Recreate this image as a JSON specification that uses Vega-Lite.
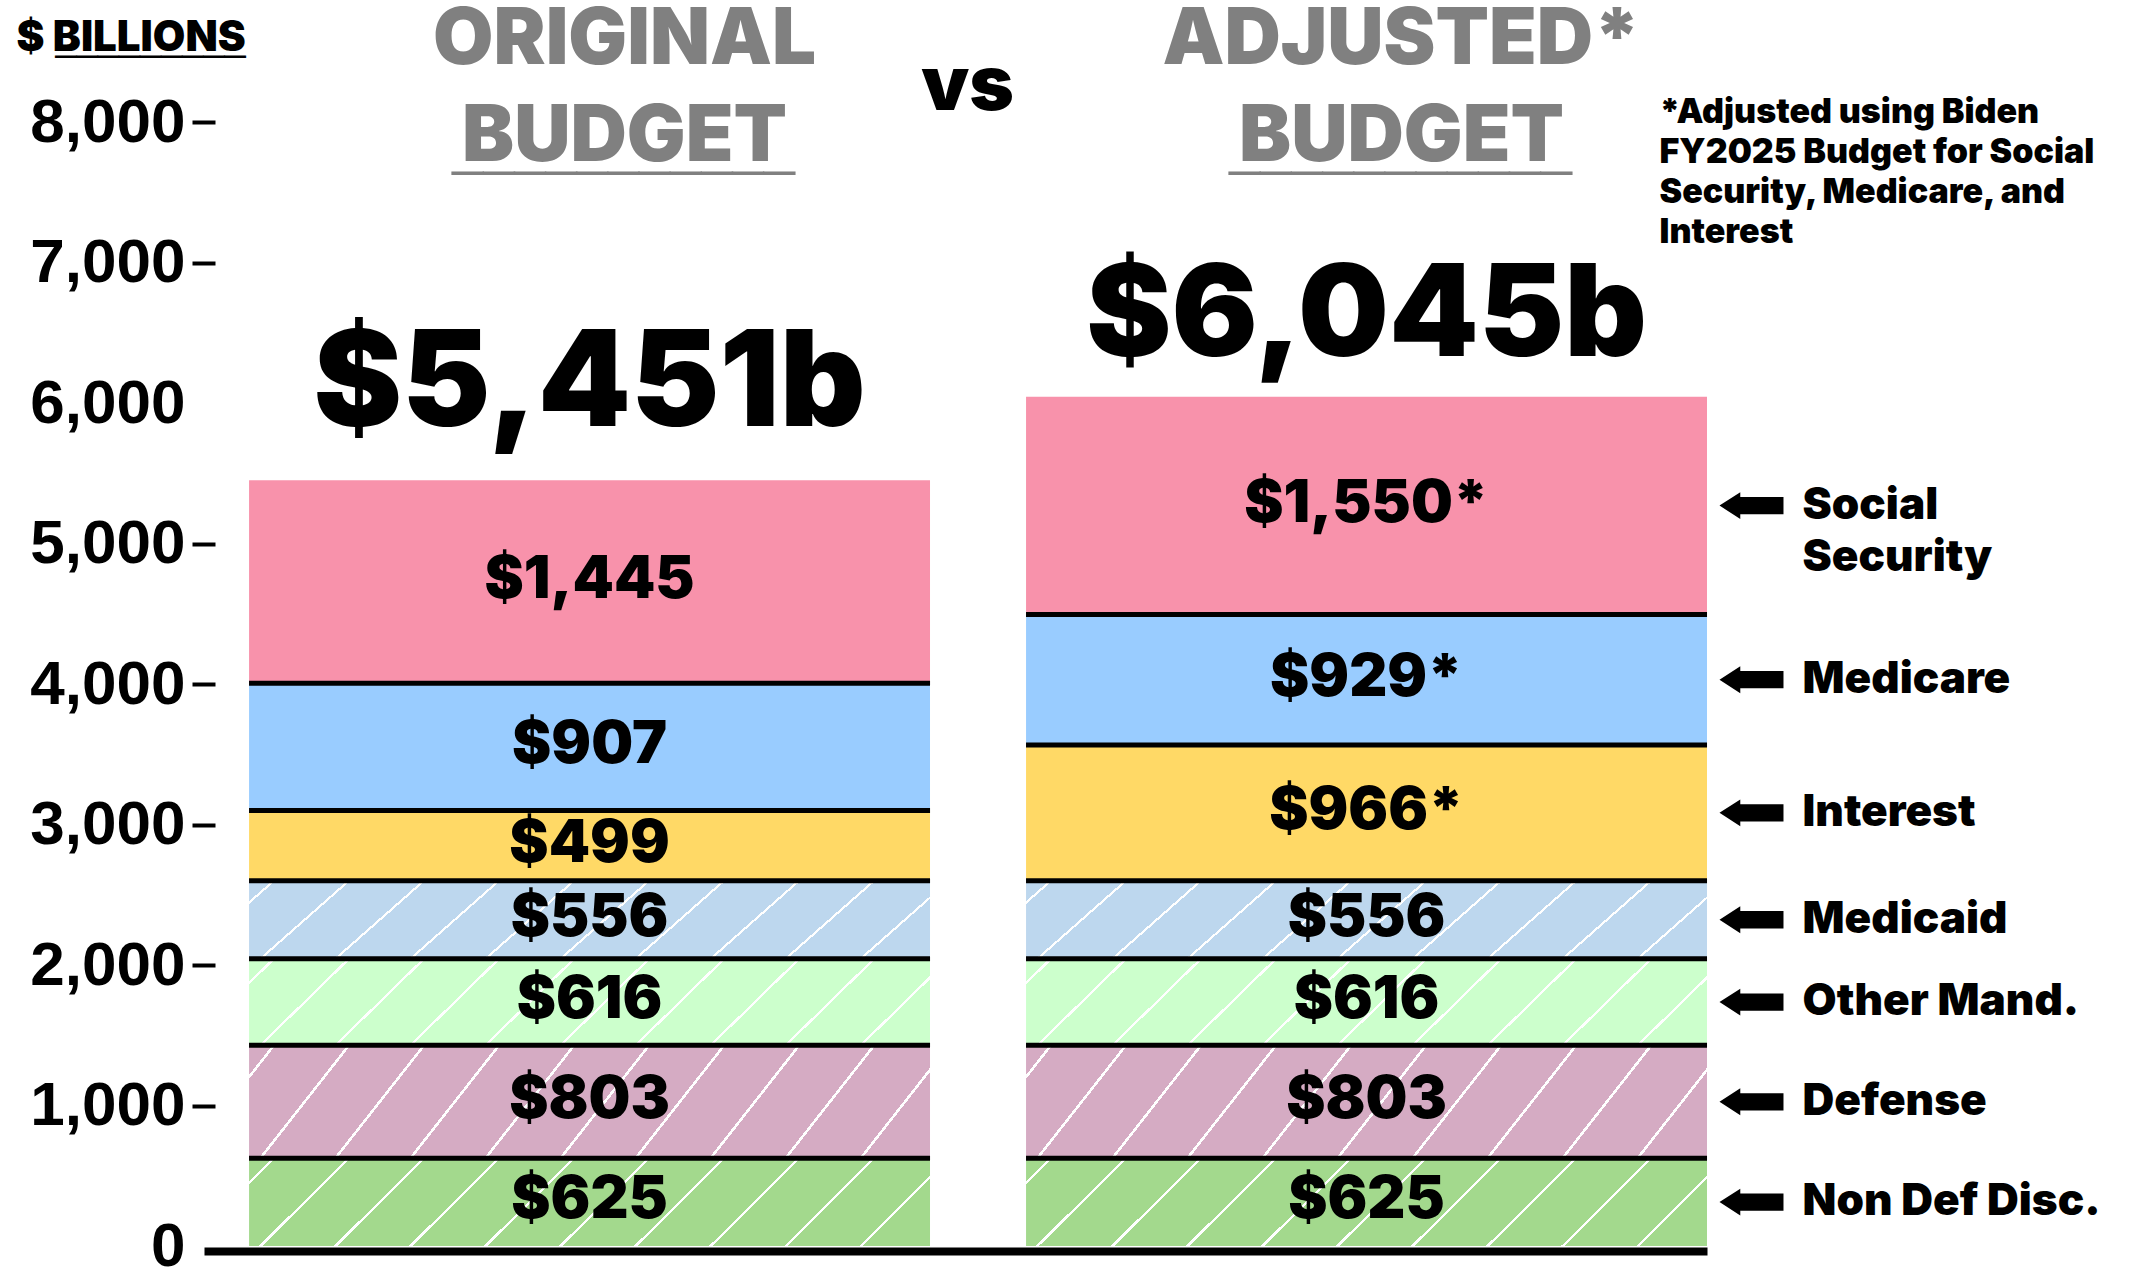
{
  "$schema": "https://vega.github.io/schema/vega-lite/v6.json",
  "width": 1503,
  "height": 1124,
  "autosize": {"type": "none"},
  "padding": {"left": 204, "top": 122, "right": 425, "bottom": 26},
  "background": "white",
  "config": {"font": "Inter", "view": {"stroke": null}, "axis": {"grid": false}},
  "data": {
    "values": [
      {"budget": "Original", "category": "Non Def Disc.", "value": 625, "adjusted": false},
      {"budget": "Original", "category": "Defense", "value": 803, "adjusted": false},
      {"budget": "Original", "category": "Other Mand.", "value": 616, "adjusted": false},
      {"budget": "Original", "category": "Medicaid", "value": 556, "adjusted": false},
      {"budget": "Original", "category": "Interest", "value": 499, "adjusted": false},
      {"budget": "Original", "category": "Medicare", "value": 907, "adjusted": false},
      {"budget": "Original", "category": "Social Security", "value": 1445, "adjusted": false},
      {"budget": "Adjusted", "category": "Non Def Disc.", "value": 625, "adjusted": false},
      {"budget": "Adjusted", "category": "Defense", "value": 803, "adjusted": false},
      {"budget": "Adjusted", "category": "Other Mand.", "value": 616, "adjusted": false},
      {"budget": "Adjusted", "category": "Medicaid", "value": 556, "adjusted": false},
      {"budget": "Adjusted", "category": "Interest", "value": 966, "adjusted": true},
      {"budget": "Adjusted", "category": "Medicare", "value": 929, "adjusted": true},
      {"budget": "Adjusted", "category": "Social Security", "value": 1550, "adjusted": true}
    ]
  },
  "transform": [
    {"stack": "value", "groupby": ["budget"], "as": ["y0", "y1"]},
    {"calculate": "(datum.y0 + datum.y1) / 2", "as": "mid"},
    {"calculate": "'$' + format(datum.value, ',') + (datum.adjusted ? '*' : '')", "as": "label"},
    {"calculate": "datum.category == 'Social Security' ? ['Social', 'Security'] : datum.category", "as": "side"}
  ],
  "encoding": {
    "x": {"field": "budget", "type": "nominal", "sort": ["Original", "Adjusted"], "scale": {"paddingInner": 0.1236, "paddingOuter": 0.029, "align": 1}, "axis": null}
  },
  "resolve": {"axis": {"x": "independent", "y": "independent"}},
  "layer": [
    {
      "mark": {"type": "bar", "strokeWidth": 0},
      "encoding": {
        "x": {
          "field": "budget", "type": "nominal", "sort": ["Original", "Adjusted"],
          "scale": {"paddingInner": 0.1236, "paddingOuter": 0.029, "align": 1},
          "axis": {
            "orient": "top", "domain": false, "ticks": false, "tickSize": 0, "labelPadding": 59,
            "labelBaseline": "alphabetic", "labelAngle": 0, "labelFont": "Inter", "labelFontSize": 78,
            "labelFontWeight": 900, "labelColor": "#808080", "labelLineHeight": 97, "labelOffset": 35,
            "labelLimit": 0, "labelOverlap": false,
            "labelExpr": "datum.value == 'Original' ? ['ORIGINAL', 'BUDGET'] : ['ADJUSTED*', 'BUDGET']",
            "title": "vs", "titleX": 763, "titleY": -13, "titleAlign": "center", "titleBaseline": "alphabetic",
            "titleAngle": 0, "titleFont": "Inter", "titleFontSize": 76, "titleFontWeight": 900, "titleColor": "black"
          }
        },
        "y": {
          "field": "y0", "type": "quantitative", "scale": {"domain": [0, 8000], "nice": false},
          "axis": {
            "orient": "left", "offset": -11, "domain": false, "grid": false,
            "values": [0, 1000, 2000, 3000, 4000, 5000, 6000, 7000, 8000], "format": ",d",
            "tickSize": 23, "tickWidth": 4, "tickColor": "black",
            "tickOpacity": {"condition": {"test": "datum.value == 6000 || datum.value == 0", "value": 0}, "value": 1},
            "labelFont": "Liberation Sans", "labelFontSize": 62, "labelFontWeight": "bold", "labelColor": "black",
            "labelPadding": 7,
            "title": "$ BILLIONS", "titleAngle": 0, "titleX": -199, "titleY": -72,
            "titleAlign": "left", "titleBaseline": "alphabetic", "titleFont": "Inter", "titleFontSize": 42,
            "titleFontWeight": 900, "titleColor": "black"
          }
        },
        "y2": {"field": "y1"},
        "color": {
          "field": "category", "type": "nominal",
          "scale": {
            "domain": ["Non Def Disc.", "Defense", "Other Mand.", "Medicaid", "Interest", "Medicare", "Social Security"],
            "range": ["#A3D98D", "#D5ABC3", "#CCFFCC", "#BDD7EE", "#FFD966", "#99CCFF", "#F892AB"]
          },
          "legend": null
        }
      }
    },
    {
      "transform": [{"filter": {"field": "category", "oneOf": ["Non Def Disc.", "Defense", "Other Mand.", "Medicaid"]}}],
      "mark": {
        "type": "bar", "strokeWidth": 0,
        "fill": {
          "gradient": "linear", "x1": 0, "y1": 0, "x2": 1.2, "y2": 0.156,
          "stops": [
            {"offset": 0, "color": "rgba(255,255,255,0)"},
            {"offset": 0.0279, "color": "rgba(255,255,255,0)"}, {"offset": 0.0279, "color": "#ffffff"}, {"offset": 0.0318, "color": "#ffffff"}, {"offset": 0.0318, "color": "rgba(255,255,255,0)"},
            {"offset": 0.1182, "color": "rgba(255,255,255,0)"}, {"offset": 0.1182, "color": "#ffffff"}, {"offset": 0.1221, "color": "#ffffff"}, {"offset": 0.1221, "color": "rgba(255,255,255,0)"},
            {"offset": 0.2085, "color": "rgba(255,255,255,0)"}, {"offset": 0.2085, "color": "#ffffff"}, {"offset": 0.2124, "color": "#ffffff"}, {"offset": 0.2124, "color": "rgba(255,255,255,0)"},
            {"offset": 0.2988, "color": "rgba(255,255,255,0)"}, {"offset": 0.2988, "color": "#ffffff"}, {"offset": 0.3027, "color": "#ffffff"}, {"offset": 0.3027, "color": "rgba(255,255,255,0)"},
            {"offset": 0.3891, "color": "rgba(255,255,255,0)"}, {"offset": 0.3891, "color": "#ffffff"}, {"offset": 0.3930, "color": "#ffffff"}, {"offset": 0.3930, "color": "rgba(255,255,255,0)"},
            {"offset": 0.4794, "color": "rgba(255,255,255,0)"}, {"offset": 0.4794, "color": "#ffffff"}, {"offset": 0.4833, "color": "#ffffff"}, {"offset": 0.4833, "color": "rgba(255,255,255,0)"},
            {"offset": 0.5697, "color": "rgba(255,255,255,0)"}, {"offset": 0.5697, "color": "#ffffff"}, {"offset": 0.5736, "color": "#ffffff"}, {"offset": 0.5736, "color": "rgba(255,255,255,0)"},
            {"offset": 0.6600, "color": "rgba(255,255,255,0)"}, {"offset": 0.6600, "color": "#ffffff"}, {"offset": 0.6639, "color": "#ffffff"}, {"offset": 0.6639, "color": "rgba(255,255,255,0)"},
            {"offset": 0.7503, "color": "rgba(255,255,255,0)"}, {"offset": 0.7503, "color": "#ffffff"}, {"offset": 0.7542, "color": "#ffffff"}, {"offset": 0.7542, "color": "rgba(255,255,255,0)"},
            {"offset": 0.8406, "color": "rgba(255,255,255,0)"}, {"offset": 0.8406, "color": "#ffffff"}, {"offset": 0.8445, "color": "#ffffff"}, {"offset": 0.8445, "color": "rgba(255,255,255,0)"},
            {"offset": 1, "color": "rgba(255,255,255,0)"}
          ]
        }
      },
      "encoding": {
        "y": {
          "field": "y0", "type": "quantitative", "scale": {"domain": [0, 8000], "nice": false},
          "axis": {
            "orient": "left", "domain": false, "ticks": false, "labels": false, "grid": false,
            "title": "_________", "titleFont": "Liberation Sans", "titleFontSize": 38, "titleFontWeight": "normal",
            "titleColor": "black", "titleAngle": 0, "titleX": -149, "titleY": -73, "titleAlign": "left", "titleBaseline": "alphabetic"
          }
        },
        "y2": {"field": "y1"}
      }
    },
    {
      "transform": [{"filter": "datum.category != 'Social Security'"}],
      "mark": {"type": "tick", "orient": "horizontal", "size": 681, "thickness": 5, "color": "black", "opacity": 1},
      "encoding": {
        "x": {
          "field": "budget", "type": "nominal", "sort": ["Original", "Adjusted"],
          "scale": {"paddingInner": 0.1236, "paddingOuter": 0.029, "align": 1},
          "axis": {
            "orient": "bottom", "offset": 5, "domain": true, "domainColor": "black", "domainWidth": 8,
            "labels": false, "ticks": false, "grid": false,
            "title": ["*Adjusted using Biden", "FY2025 Budget for Social", "Security, Medicare, and", "Interest"],
            "titleX": 1455, "titleY": -1129, "titleAlign": "left", "titleBaseline": "alphabetic", "titleAngle": 0,
            "titleLineHeight": 40, "titleFont": "Inter", "titleFontSize": 34, "titleFontWeight": 900, "titleColor": "black"
          }
        },
        "y": {"field": "y1", "type": "quantitative", "scale": {"domain": [0, 8000], "nice": false}, "axis": null}
      }
    },
    {
      "mark": {"type": "text", "fontSize": 59, "fontWeight": 900, "baseline": "middle", "dy": -2, "color": "black"},
      "encoding": {
        "x": {
          "field": "budget", "type": "nominal", "sort": ["Original", "Adjusted"],
          "scale": {"paddingInner": 0.1236, "paddingOuter": 0.029, "align": 1},
          "axis": {
            "orient": "top", "domain": false, "ticks": false, "tickSize": 0, "labelPadding": -41,
            "labelBaseline": "alphabetic", "labelAngle": 0, "labelFont": "Liberation Sans", "labelFontSize": 56,
            "labelFontWeight": "normal", "labelColor": "#808080", "labelOffset": 34, "labelLimit": 0,
            "labelOverlap": false, "labelExpr": "'___________'", "title": null
          }
        },
        "y": {"field": "mid", "type": "quantitative", "scale": {"domain": [0, 8000], "nice": false}, "axis": null},
        "text": {"field": "label"}
      }
    },
    {
      "transform": [{"filter": "datum.budget == 'Adjusted'"}],
      "mark": {"type": "text", "fontSize": 44, "fontWeight": 900, "align": "left", "baseline": "middle", "dx": 436, "lineHeight": 52, "color": "black"},
      "encoding": {
        "y": {"field": "mid", "type": "quantitative", "scale": {"domain": [0, 8000], "nice": false}, "axis": null},
        "text": {"field": "side"}
      }
    },
    {
      "transform": [{"filter": "datum.budget == 'Adjusted'"}],
      "mark": {"type": "point", "shape": "M 11.03 0 L 11.68 -0.42 L 11.68 -0.27 L 13.03 -0.27 L 13.03 0.27 L 11.68 0.27 L 11.68 0.42 Z", "size": 4096, "filled": true, "color": "black", "opacity": 1, "strokeWidth": 0},
      "encoding": {
        "y": {"field": "mid", "type": "quantitative", "scale": {"domain": [0, 8000], "nice": false}, "axis": null}
      }
    },
    {
      "transform": [
        {"filter": "datum.budget == 'Original'"},
        {"aggregate": [{"op": "sum", "field": "value", "as": "total"}], "groupby": ["budget"]},
        {"calculate": "'$' + format(datum.total, ',') + 'b'", "as": "tlabel"}
      ],
      "mark": {"type": "text", "fontSize": 133, "fontWeight": 900, "baseline": "alphabetic", "dy": -54, "color": "black"},
      "encoding": {
        "y": {"field": "total", "type": "quantitative", "scale": {"domain": [0, 8000], "nice": false}, "axis": null},
        "text": {"field": "tlabel"}
      }
    },
    {
      "transform": [
        {"filter": "datum.budget == 'Adjusted'"},
        {"aggregate": [{"op": "sum", "field": "value", "as": "total"}], "groupby": ["budget"]},
        {"calculate": "'$' + format(datum.total, ',') + 'b'", "as": "tlabel"}
      ],
      "mark": {"type": "text", "fontSize": 128, "fontWeight": 900, "baseline": "alphabetic", "dy": -41, "color": "black"},
      "encoding": {
        "y": {"field": "total", "type": "quantitative", "scale": {"domain": [0, 8000], "nice": false}, "axis": null},
        "text": {"field": "tlabel"}
      }
    }
  ]
}
